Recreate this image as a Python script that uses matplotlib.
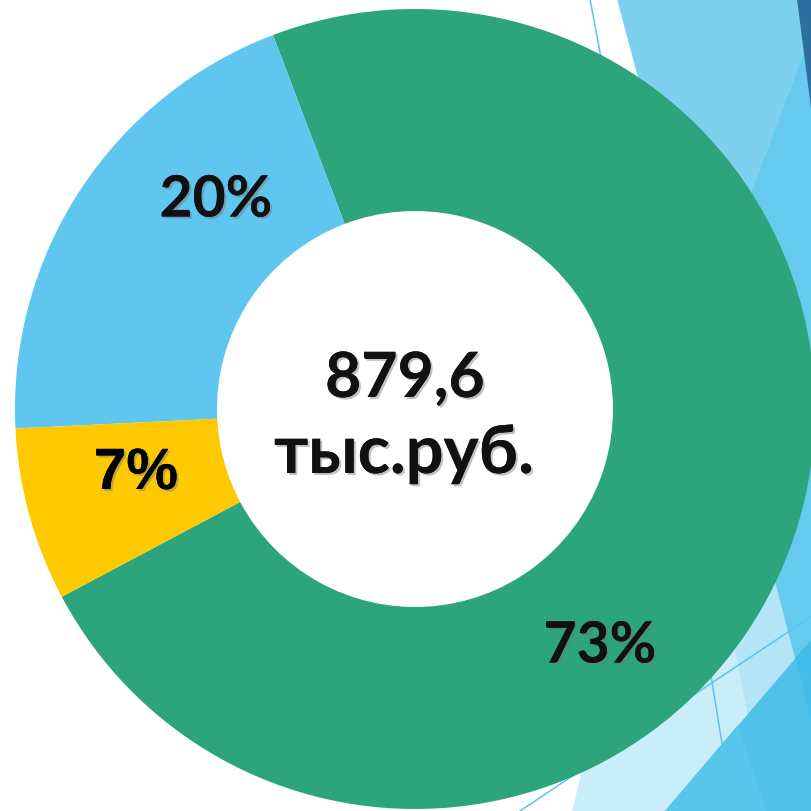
import matplotlib
matplotlib.use("Agg")
import matplotlib.pyplot as plt
import matplotlib.patheffects as pe
from matplotlib.patches import Polygon

# data
shares = [73, 20, 7]
share_labels = ["73%", "20%", "7%"]
share_colors = ["#2ca47c", "#5ec6ef", "#ffc902"]
total_text = ["879,6", "тыс.руб."]

W = H = 812
fig = plt.figure(figsize=(W / 100, H / 100), dpi=100)
ax = fig.add_axes([0, 0, 1, 1])


def px(pts):
    """Convert picture pixel coords (y down) to axes coords (y up)."""
    return [(x, H - y) for x, y in pts]


def poly(pts, color, z=0):
    ax.add_patch(Polygon(px(pts), closed=True, facecolor=color,
                         edgecolor="none", zorder=z))


# background decoration (slide theme shapes)
poly([(617, 0), (812, 0), (812, 330), (705, 330)], "#7ed1ee")
poly([(572, 812), (640, 540), (812, 540), (812, 812)], "#c9edf9")
poly([(705, 500), (812, 500), (812, 812), (767, 812)], "#b4e5f7")
poly([(812, 33), (700, 330), (720, 420), (753.6, 500), (812, 724.6)], "#66caee")
poly([(665, 812), (812, 640), (812, 812)], "#4fc1ea")
poly([(665, 812), (738, 726), (767, 812)], "#57c5ec")
poly([(795.5, 659), (812, 640), (812, 724.6)], "#42bce8")
poly([(797, 0), (812, 0), (812, 117)], "#2f6f9f")
for (x0, y0), (x1, y1) in [((590, 0), (605, 80)),
                           ((520, 812), (812, 617)),
                           ((705, 640), (733, 812))]:
    ax.plot([x0, x1], [H - y0, H - y1], color="#5cc5ee", lw=1.1, zorder=1)

# donut
cx, cy, R = 415, H - 410, 400
ax.pie(shares, colors=share_colors, startangle=208, counterclock=True,
       center=(cx, cy), radius=R,
       wedgeprops=dict(width=202, edgecolor="none", zorder=3))
ax.set_xlim(0, W)
ax.set_ylim(0, H)
ax.set_aspect("equal")
ax.axis("off")

shadow = [pe.withSimplePatchShadow(offset=(1.5, -1.5), shadow_rgbFace="#777777",
                                   alpha=0.45), pe.Normal()]
calibri_like = ["Lato", "Open Sans", "DejaVu Sans"]

ax.text(600, H - 647, share_labels[0], fontsize=41, fontweight="bold",
        family=calibri_like, color="#111111", ha="center", va="center",
        zorder=5, path_effects=shadow)
ax.text(216, H - 201, share_labels[1], fontsize=41, fontweight="bold",
        family=calibri_like, color="#111111", ha="center", va="center",
        zorder=5, path_effects=shadow)
ax.text(136, H - 475, share_labels[2], fontsize=42, fontweight="bold",
        family=["Liberation Sans", "DejaVu Sans"], color="#000000",
        ha="center", va="center", zorder=5, path_effects=shadow)

ax.text(405, H - 380, total_text[0], fontsize=45, fontweight="bold",
        family=calibri_like, color="#111111", ha="center", va="center",
        zorder=5, path_effects=shadow)
ax.text(404, H - 455, total_text[1], fontsize=48, fontweight="bold",
        family=calibri_like, color="#111111", ha="center", va="center",
        zorder=5, path_effects=shadow)

fig.savefig("out.png", dpi=100, facecolor="white")
